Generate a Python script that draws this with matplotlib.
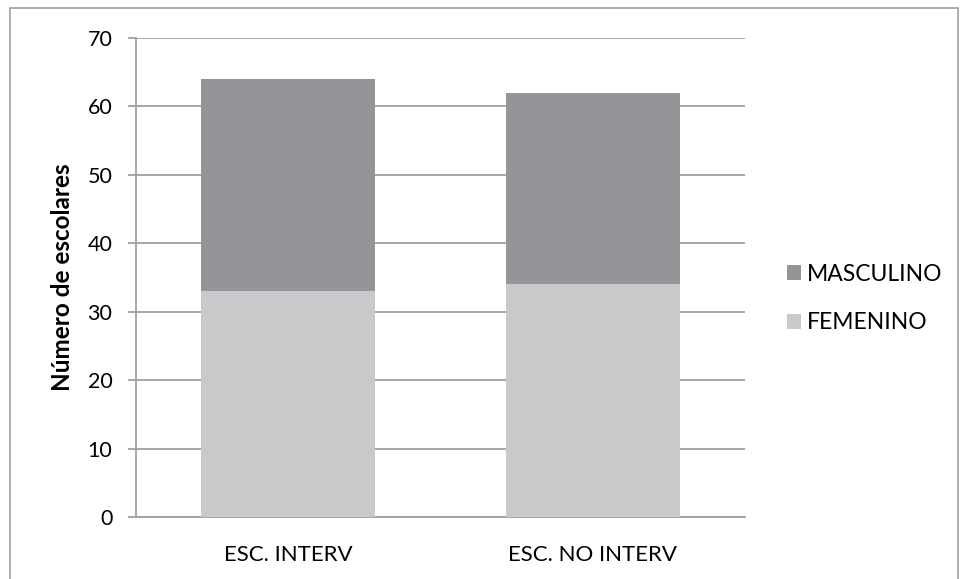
import matplotlib.pyplot as plt
import numpy as np
from matplotlib.patches import Rectangle

# school groups and counts per sex
grupos = ['ESC. INTERV', 'ESC. NO INTERV']
femenino = [33, 34]
masculino = [31, 28]

plt.rcParams['font.family'] = ['Lato', 'DejaVu Sans']

fig = plt.figure(figsize=(9.61, 5.79), dpi=100)
ax = fig.add_axes([136 / 961, 62 / 579, 609 / 961, 479 / 579])

x = np.arange(len(grupos))
ancho = 0.572
ax.bar(x, femenino, ancho, color='#C8C9CB', label='FEMENINO', zorder=3)
ax.bar(x, masculino, ancho, bottom=femenino, color='#939598', label='MASCULINO', zorder=3)

ax.set_xlim(-0.5, 1.5)
ax.set_ylim(0, 70)
ax.set_yticks(range(0, 71, 10))
ax.set_xticks(x)
ax.set_xticklabels(grupos)
ax.grid(axis='y', color='#A0A0A0', linewidth=1.3, zorder=0)
ax.tick_params(axis='y', length=6, width=1.3, color='#A0A0A0', labelsize=15.5, pad=11)
ax.tick_params(axis='x', length=0, labelsize=16, pad=20)
for s in ['top', 'right']:
    ax.spines[s].set_visible(False)
for s in ['left', 'bottom']:
    ax.spines[s].set_color('#A0A0A0')
    ax.spines[s].set_linewidth(1.3)
ax.set_ylabel('Número de escolares', fontsize=17.5, fontweight='bold', labelpad=10)

h, l = ax.get_legend_handles_labels()
ax.legend(h[::-1], l[::-1], loc='center left', bbox_to_anchor=(1.035, 0.456),
          frameon=False, fontsize=16.5, handlelength=0.6, handleheight=0.6,
          handletextpad=0.25, labelspacing=1.2)

# outer frame
fig.patches.append(Rectangle((10 / 961, -0.05), 948 / 961, 1.05 - 8 / 579,
                             transform=fig.transFigure, fill=False,
                             edgecolor='#A6A6A6', linewidth=1.3))

fig.savefig('out.png', dpi=100)
